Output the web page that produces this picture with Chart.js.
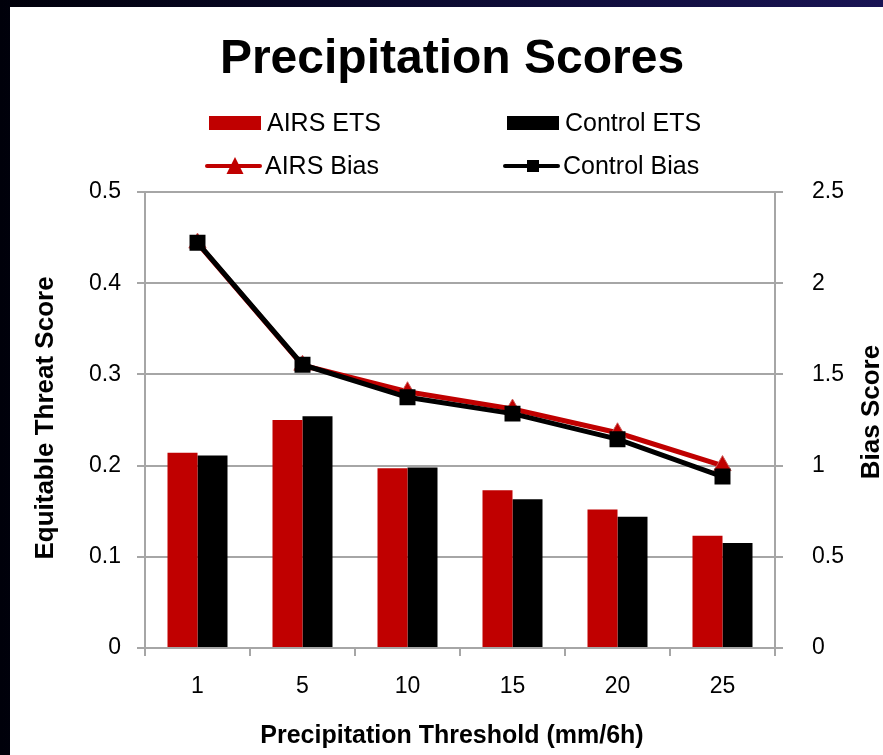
<!DOCTYPE html>
<html lang="en">
<head>
<meta charset="UTF-8">
<title>Precipitation Scores</title>
<script src="https://cdn.jsdelivr.net/npm/chart.js"></script>
<style>
  html, body { margin: 0; padding: 0; }
  body {
    width: 883px; height: 755px; overflow: hidden;
    background: linear-gradient(to right, #00000a 0%, #0b0a2e 45%, #191454 100%);
  }
  #chart { position: absolute; left: 0; top: 0; }
</style>
</head>
<body>
<canvas id="chart" width="883" height="755"></canvas>
<script>
// data
const thresholds = ['1', '5', '10', '15', '20', '25'];
const airsEts = [0.214, 0.250, 0.197, 0.173, 0.152, 0.123];
const controlEts = [0.211, 0.254, 0.198, 0.163, 0.144, 0.115];
const airsBias = [2.22, 1.55, 1.405, 1.31, 1.18, 1.0];
const controlBias = [2.222, 1.553, 1.375, 1.285, 1.145, 0.94];

const etsTickLabels = ['0', '0.1', '0.2', '0.3', '0.4', '0.5'];
const biasTickLabels = ['0', '0.5', '1', '1.5', '2', '2.5'];

const chartTitle = 'Precipitation Scores';
const xTitle = 'Precipitation Threshold (mm/6h)';
const yTitle = 'Equitable Threat Score';
const y1Title = 'Bias Score';

const RED = '#C00000';
const GRID = '#a6a6a6';
const FONT = '"Liberation Sans", Arial, Helvetica, sans-serif';

Chart.defaults.font.family = FONT;
Chart.defaults.color = '#000';

// white slide panel behind the chart
const panel = {
  id: 'panel',
  beforeDraw(chart) {
    const ctx = chart.ctx;
    ctx.save();
    ctx.fillStyle = '#fff';
    ctx.fillRect(10, 7, 873, 748);
    ctx.restore();
  }
};

// title, 2x2 legend and axis titles
const headings = {
  id: 'headings',
  afterDraw(chart) {
    const ctx = chart.ctx;
    const area = chart.chartArea;
    ctx.save();
    ctx.fillStyle = '#000';
    ctx.textAlign = 'center';
    ctx.textBaseline = 'alphabetic';
    ctx.font = 'bold 48px ' + FONT;
    ctx.fillText(chartTitle, 452, 73);

    const slots = [
      { x: 209, y: 123 }, { x: 507, y: 123 },
      { x: 207, y: 166 }, { x: 505, y: 166 }
    ];
    ctx.font = '25px ' + FONT;
    ctx.textAlign = 'left';
    ctx.textBaseline = 'middle';
    chart.data.datasets.forEach((ds, i) => {
      const s = slots[i];
      if (ds.type === 'line') {
        ctx.strokeStyle = ds.borderColor;
        ctx.lineWidth = 4;
        ctx.lineCap = 'round';
        ctx.beginPath();
        ctx.moveTo(s.x, s.y);
        ctx.lineTo(s.x + 53, s.y);
        ctx.stroke();
        const cx = s.x + 28;
        ctx.fillStyle = ds.pointBackgroundColor;
        if (ds.pointStyle === 'triangle') {
          ctx.beginPath();
          ctx.moveTo(cx, s.y - 9);
          ctx.lineTo(cx + 8.5, s.y + 8);
          ctx.lineTo(cx - 8.5, s.y + 8);
          ctx.closePath();
          ctx.fill();
        } else {
          ctx.fillRect(cx - 6, s.y - 6, 12, 12);
        }
      } else {
        ctx.fillStyle = ds.backgroundColor;
        ctx.fillRect(s.x, s.y - 7, 52, 14);
      }
      ctx.fillStyle = '#000';
      ctx.fillText(ds.label, s.x + 58, s.y + 1);
    });

    // x axis title
    ctx.textAlign = 'center';
    ctx.textBaseline = 'alphabetic';
    ctx.font = 'bold 25px ' + FONT;
    ctx.fillText(xTitle, 452, 743);

    // y axis titles, both read bottom to top
    ctx.textBaseline = 'middle';
    ctx.font = 'bold 26px ' + FONT;
    ctx.save();
    ctx.translate(46, (area.top + area.bottom) / 2 - 2);
    ctx.rotate(-Math.PI / 2);
    ctx.fillText(yTitle, 0, 0);
    ctx.restore();

    ctx.translate(872, (area.top + area.bottom) / 2 - 8);
    ctx.rotate(-Math.PI / 2);
    ctx.fillText(y1Title, 0, 0);
    ctx.restore();
  }
};

new Chart(document.getElementById('chart'), {
  type: 'bar',
  data: {
    labels: thresholds,
    datasets: [
      {
        label: 'AIRS ETS', data: airsEts, yAxisID: 'y',
        backgroundColor: RED, categoryPercentage: 60 / 105, barPercentage: 1, order: 2
      },
      {
        label: 'Control ETS', data: controlEts, yAxisID: 'y',
        backgroundColor: '#000', categoryPercentage: 60 / 105, barPercentage: 1, order: 3
      },
      {
        type: 'line', label: 'AIRS Bias', data: airsBias, yAxisID: 'y1',
        borderColor: RED, borderWidth: 5, tension: 0,
        pointStyle: 'triangle', pointRadius: 10,
        pointBackgroundColor: RED, pointBorderColor: '#cc5a58', pointBorderWidth: 1, order: 1
      },
      {
        type: 'line', label: 'Control Bias', data: controlBias, yAxisID: 'y1',
        borderColor: '#000', borderWidth: 5, tension: 0,
        pointStyle: 'rect', pointRadius: 11.3,
        pointBackgroundColor: '#000', pointBorderColor: '#000', pointBorderWidth: 0, order: 0
      }
    ]
  },
  options: {
    responsive: false,
    animation: false,
    devicePixelRatio: 1,
    layout: { padding: { top: 192, left: 0, right: 0, bottom: 0 } },
    plugins: {
      legend: { display: false },
      title: { display: false },
      tooltip: { enabled: false }
    },
    scales: {
      x: {
        offset: true,
        grid: { offset: true, drawOnChartArea: false, tickLength: 8, color: GRID, lineWidth: 2 },
        border: { color: GRID, width: 2 },
        ticks: { padding: 17, maxRotation: 0, font: { size: 23 } },
        afterFit(scale) { scale.height = 107; }
      },
      y: {
        position: 'left', min: 0, max: 0.5,
        grid: { tickLength: 8, color: GRID, lineWidth: 2 },
        border: { color: GRID, width: 2 },
        ticks: {
          stepSize: 0.1, padding: 16, font: { size: 23 },
          callback: (v, i) => etsTickLabels[i]
        },
        afterFit(scale) { scale.width = 145; }
      },
      y1: {
        position: 'right', min: 0, max: 2.5,
        grid: { drawOnChartArea: false, tickLength: 8, color: GRID, lineWidth: 2 },
        border: { color: GRID, width: 2 },
        ticks: {
          stepSize: 0.5, padding: 29, font: { size: 23 },
          callback: (v, i) => biasTickLabels[i]
        },
        afterFit(scale) { scale.width = 108; }
      }
    }
  },
  plugins: [panel, headings]
});
</script>
</body>
</html>
